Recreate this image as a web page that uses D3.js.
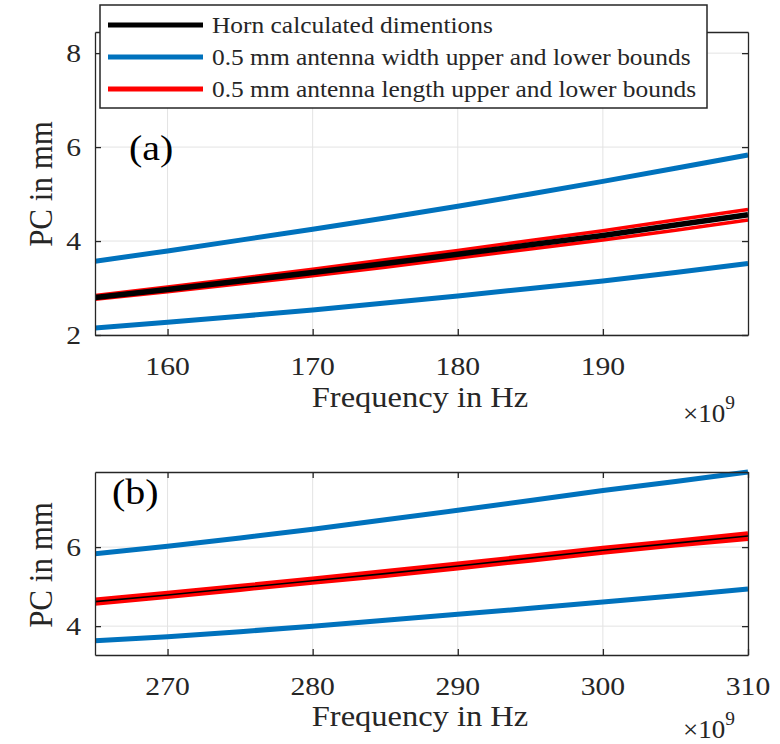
<!DOCTYPE html>
<html>
<head>
<meta charset="utf-8">
<script src="https://cdn.jsdelivr.net/npm/d3@7"></script>
<style>
  body { margin: 0; background: #fff; }
</style>
</head>
<body>
<div id="chart"></div>
<script>
// panel (a) values, frequency in GHz (axis shows x10^9)
var freqA = [155, 160, 165, 170, 175, 180, 185, 190, 195, 200];
var hornA = [2.80, 2.97, 3.15, 3.33, 3.52, 3.72, 3.92, 4.12, 4.34, 4.56];
var lenUpA = [2.84, 3.02, 3.21, 3.40, 3.60, 3.80, 4.01, 4.22, 4.45, 4.67];
var lenLoA = [2.76, 2.92, 3.09, 3.26, 3.44, 3.64, 3.83, 4.02, 4.23, 4.45];
var widUpA = [3.57, 3.79, 4.02, 4.25, 4.49, 4.74, 5.00, 5.27, 5.55, 5.83];
var widLoA = [2.15, 2.27, 2.40, 2.53, 2.68, 2.83, 2.99, 3.15, 3.33, 3.52];

// panel (b) values
var freqB = [265, 270, 275, 280, 285, 290, 295, 300, 305, 310];
var hornB = [4.62, 4.79, 4.97, 5.15, 5.33, 5.52, 5.72, 5.92, 6.10, 6.28];
var lenUpB = [4.66, 4.83, 5.01, 5.19, 5.38, 5.57, 5.77, 5.97, 6.15, 6.34];
var lenLoB = [4.58, 4.75, 4.93, 5.11, 5.28, 5.47, 5.67, 5.87, 6.05, 6.22];
var widUpB = [5.83, 6.02, 6.23, 6.45, 6.69, 6.93, 7.18, 7.43, 7.66, 7.90];
var widLoB = [3.63, 3.73, 3.86, 4.00, 4.15, 4.30, 4.45, 4.61, 4.77, 4.94];

var xTicksA = [160, 170, 180, 190], yTicksA = [2, 4, 6, 8];
var xTicksB = [270, 280, 290, 300, 310], yTicksB = [4, 6];

var legendLabels = ["Horn calculated dimentions",
                    "0.5 mm antenna width upper and lower bounds",
                    "0.5 mm antenna length upper and lower bounds"];
var legendColors = ["#000000", "#0072BD", "#FF0000"];

var BLUE = "#0072BD", RED = "#FF0000", AX = "#262626";
var FONT = "Liberation Serif";
var SX = 1.14; // the figure's text is a bit wider than tall

var svg = d3.select("#chart").append("svg")
    .attr("width", 780).attr("height", 744);

function txt(parent, x, y, size, s, sx) {
  return parent.append("text")
    .attr("transform", "translate(" + x + "," + y + ") scale(" + (sx || SX) + ",1)")
    .style("font-family", FONT).style("font-size", size + "px")
    .style("fill", AX).text(s);
}

function panel(opt) {
  var x = d3.scaleLinear().domain(opt.xd).range([opt.left, opt.right]);
  var y = d3.scaleLinear().domain(opt.yd).range([opt.bottom, opt.top]);
  var g = svg.append("g");

  // grid
  g.selectAll(".gx").data(opt.xt).enter().append("line")
    .attr("x1", d => x(d)).attr("x2", d => x(d))
    .attr("y1", opt.top).attr("y2", opt.bottom)
    .attr("stroke", "#e3e3e3").attr("stroke-width", 1);
  g.selectAll(".gy").data(opt.yt).enter().append("line")
    .attr("x1", opt.left).attr("x2", opt.right)
    .attr("y1", d => y(d)).attr("y2", d => y(d))
    .attr("stroke", "#e3e3e3").attr("stroke-width", 1);

  var line = function (ys) {
    return d3.line().x((d, i) => x(opt.f[i])).y(d => y(d))(ys);
  };
  var series = [
    {v: opt.wu, c: BLUE, w: 5},
    {v: opt.wl, c: BLUE, w: 5},
    {v: opt.lu, c: RED, w: opt.redW},
    {v: opt.ll, c: RED, w: opt.redW},
    {v: opt.h, c: "#000", w: opt.blackW}
  ];
  var clipId = "clip" + opt.id;
  svg.append("clipPath").attr("id", clipId).append("rect")
    .attr("x", opt.left).attr("y", opt.top - 3)
    .attr("width", opt.right - opt.left + 2).attr("height", opt.bottom - opt.top + 3);
  g.append("g").attr("clip-path", "url(#" + clipId + ")")
    .selectAll("path").data(series).enter().append("path")
    .attr("d", d => line(d.v))
    .attr("fill", "none").attr("stroke", d => d.c)
    .attr("stroke-width", d => d.w);

  // box axes with inward ticks
  var axB = d3.axisBottom(x).tickValues(opt.xt).tickSizeInner(-6).tickSizeOuter(0).tickFormat("");
  var axT = d3.axisTop(x).tickValues(opt.xt).tickSizeInner(-6).tickSizeOuter(0).tickFormat("");
  var axL = d3.axisLeft(y).tickValues(opt.yt).tickSizeInner(-6).tickSizeOuter(0).tickFormat("");
  var axR = d3.axisRight(y).tickValues(opt.yt).tickSizeInner(-6).tickSizeOuter(0).tickFormat("");
  [[axB, 0, opt.bottom], [axT, 0, opt.top], [axL, opt.left, 0], [axR, opt.right, 0]].forEach(function (a) {
    var ag = g.append("g").attr("transform", "translate(" + a[1] + "," + a[2] + ")").call(a[0]);
    ag.selectAll("path, line").attr("stroke", AX).attr("stroke-width", 1.3);
  });

  opt.xt.forEach(function (d) {
    txt(g, x(d), opt.bottom + 40, 26, d).attr("text-anchor", "middle");
  });
  opt.yt.forEach(function (d) {
    txt(g, opt.left - 14, y(d) + 9, 26, d).attr("text-anchor", "end");
  });

  txt(g, 420, opt.bottom + opt.xlOff, 28.5, "Frequency in Hz").attr("text-anchor", "middle");
  g.append("text").attr("text-anchor", "middle")
    .attr("transform", "translate(52," + opt.ylY + ") rotate(-90) scale(1,1.12)")
    .style("font-family", FONT).style("font-size", "31px").style("fill", AX)
    .text("PC in mm");
  var ex = txt(g, 683, opt.bottom + opt.expOff, 25, "", 1.08);
  ex.append("tspan").text("\u00d710");
  ex.append("tspan").attr("dy", -13).style("font-size", "18px").text("9");

  txt(g, opt.tagX, opt.tagY, 35, opt.tag).style("fill", "#000");
  return g;
}

panel({id: "a", xd: [155, 200], yd: [2, 8.45], left: 95, right: 748, top: 32, bottom: 335,
  f: freqA, h: hornA, lu: lenUpA, ll: lenLoA, wu: widUpA, wl: widLoA,
  xt: xTicksA, yt: yTicksA, redW: 3.5, blackW: 5.5,
  tag: "(a)", tagX: 129, tagY: 160, ylY: 184, xlOff: 72, expOff: 87});

panel({id: "b", xd: [265, 310], yd: [3.27, 7.9], left: 95, right: 748, top: 472, bottom: 655,
  f: freqB, h: hornB, lu: lenUpB, ll: lenLoB, wu: widUpB, wl: widLoB,
  xt: xTicksB, yt: yTicksB, redW: 5, blackW: 1.6,
  tag: "(b)", tagX: 112, tagY: 504, ylY: 565, xlOff: 71, expOff: 83});

// legend for panel (a)
var lg = svg.append("g");
lg.append("rect").attr("x", 100).attr("y", 5).attr("width", 607).attr("height", 103)
  .attr("fill", "#fff").attr("stroke", AX).attr("stroke-width", 1.5);
var rowY = d3.scalePoint().domain(d3.range(legendLabels.length)).range([25, 89]);
legendLabels.forEach(function (lab, i) {
  lg.append("line").attr("x1", 108).attr("x2", 203)
    .attr("y1", rowY(i)).attr("y2", rowY(i))
    .attr("stroke", legendColors[i]).attr("stroke-width", 5);
  txt(lg, 212, rowY(i) + 8, 22.3, lab);
});
</script>
</body>
</html>
